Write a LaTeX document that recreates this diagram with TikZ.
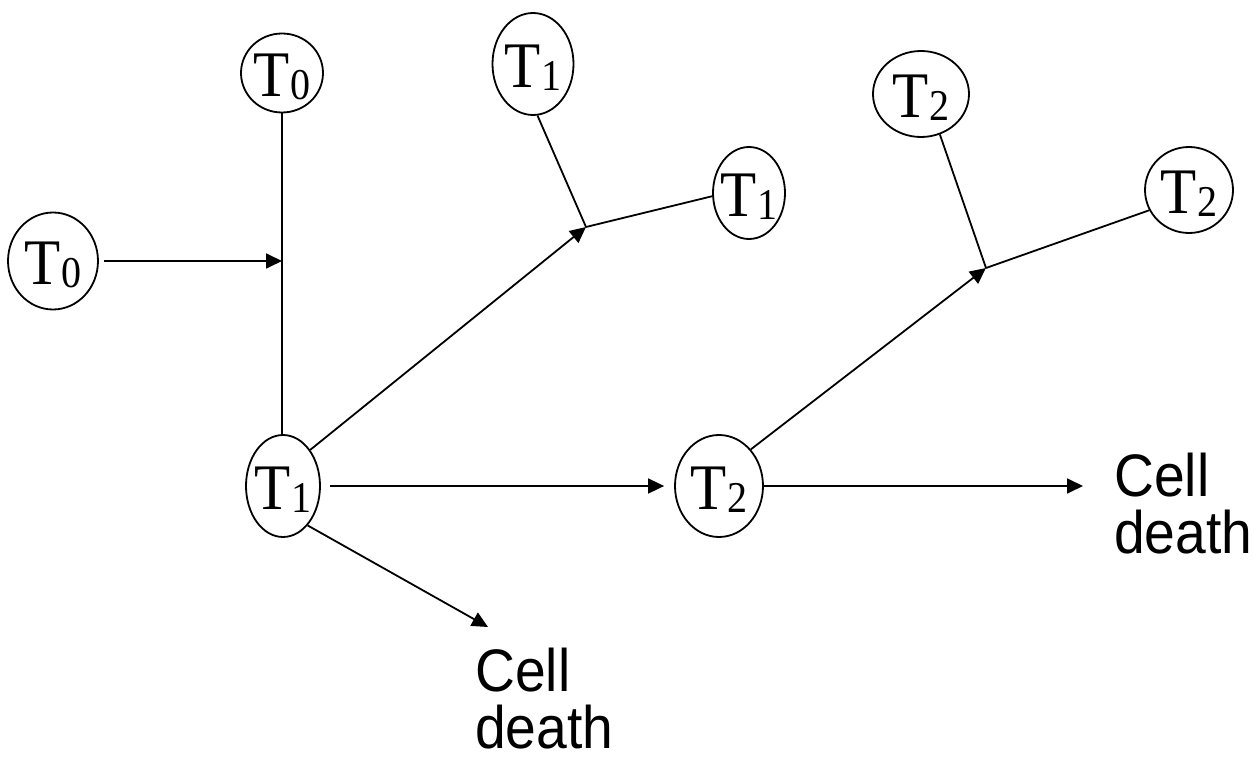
\documentclass[tikz,border=0pt]{standalone}
\usepackage{fontspec}
\setmainfont{Liberation Serif}[FakeStretch=0.91]
\setsansfont{Liberation Sans}[FakeStretch=0.92]
\usepackage{tikz}
\usetikzlibrary{shapes.geometric, arrows.meta}
\newcommand{\tname}[1]{T\raisebox{-3pt}{\fontsize{44}{44}\selectfont #1}}
\tikzstyle{link} = [line width=1.8pt]
\tikzstyle{arrow} = [line width=1.8pt, -{Triangle[length=16pt, width=15pt]}]

\begin{document}
\begin{tikzpicture}[x=1pt, y=-1pt,
		cell/.style 2 args={
			draw=black,
			ellipse,
			line width=1.8pt,
			inner sep=0pt,
			minimum width=#1pt,
			minimum height=#2pt},
		tag/.style={
			inner sep=0pt,
			yshift=-4pt,
			font=\fontsize{65}{65}\selectfont},
		fate/.style={
			anchor=north west,
			align=left,
			inner sep=0pt,
			font=\sffamily\fontsize{60}{57}\selectfont}]
		\useasboundingbox (0,0) rectangle (1254,759);

		\node (t0l) [cell={90}{97}, label={[tag]center:\tname{0}}] at (53,261) {};
		\node (t0t) [cell={82}{79}, label={[tag]center:\tname{0}}] at (282,73) {};
		\node (t1b) [cell={74}{102}, label={[tag]center:\tname{1}}] at (283,486) {};
		\node (t1u) [cell={81}{102}, label={[tag]center:\tname{1}}] at (533,64) {};
		\node (t1r) [cell={72}{92}, label={[tag]center:\tname{1}}] at (749,193) {};
		\node (t2m) [cell={88}{102}, label={[tag]center:\tname{2}}] at (719,486) {};
		\node (t2u) [cell={96}{86}, label={[tag]center:\tname{2}}] at (921,94) {};
		\node (t2r) [cell={88}{86}, label={[tag]center:\tname{2}}] at (1189,190) {};

		\node (death1) [fate] at (475,648) {Cell\\death};
		\node (death2) [fate] at (1114,453) {Cell\\death};

		\coordinate (j0) at (282,261);
		\coordinate (j1) at (586,227);
		\coordinate (j2) at (986,268);
		\coordinate (d1) at (488,627);
		\coordinate (d2) at (1083,486);

		\draw [link] (t0t) -- (t0t |- t1b.north);
		\draw [arrow, shorten <=5pt] (t0l) -- (j0);

		\draw [link] (t1u.275) -- (j1);
		\draw [link] (t1r.185) -- (j1);
		\draw [arrow] (t1b.53) -- (j1);
		\draw [arrow, shorten <=9pt, shorten >=10pt] (t1b) -- (t2m);
		\draw [arrow] (t1b.302) -- (d1);

		\draw [link] (t2u.295) -- (j2);
		\draw [link] (t2r.207) -- (j2);
		\draw [arrow] (t2m.49) -- (j2);
		\draw [arrow] (t2m) -- (d2);

	\end{tikzpicture}
\end{document}
